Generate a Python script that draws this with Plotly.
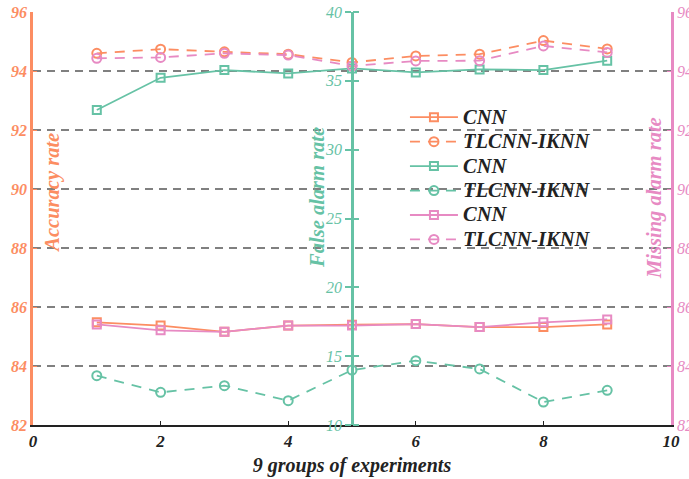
import plotly.graph_objects as go

# ---- data ----
groups = [1, 2, 3, 4, 5, 6, 7, 8, 9]
acc_cnn = [85.48, 85.37, 85.16, 85.37, 85.40, 85.42, 85.32, 85.32, 85.41]
acc_tl = [94.60, 94.74, 94.65, 94.57, 94.29, 94.51, 94.57, 95.03, 94.75]
far_cnn = [32.88, 35.22, 35.78, 35.54, 35.90, 35.61, 35.83, 35.78, 36.46]
far_tl = [13.58, 12.37, 12.86, 11.77, 13.99, 14.67, 14.07, 11.67, 12.52]
mar_cnn = [85.41, 85.21, 85.16, 85.37, 85.37, 85.42, 85.32, 85.48, 85.58]
mar_tl = [94.43, 94.46, 94.60, 94.54, 94.17, 94.34, 94.35, 94.85, 94.63]
names = ["CNN", "TLCNN-IKNN"]
x_ticks = [0, 2, 4, 6, 8, 10]
acc_ticks = [82, 84, 86, 88, 90, 92, 94, 96]
far_ticks = [10, 15, 20, 25, 30, 35, 40]

ORANGE = "#FC8D62"
GREEN = "#66C2A5"
PINK = "#E78AC3"
SERIF = "Liberation Serif"

fig = go.Figure()

def add(y, color, dashed, axis, name):
    fig.add_trace(go.Scatter(
        x=groups, y=y, yaxis=axis, mode="lines+markers",
        name='<span style="font-size:20.5px">' + name + '</span>',
        line=dict(color=color, width=1.8, dash="10px,8px" if dashed else "solid"),
        marker=dict(symbol="circle-open" if dashed else "square-open",
                    size=9 if dashed else 8, color=color, line=dict(width=2, color=color)),
    ))

add(acc_cnn, ORANGE, False, "y", names[0])
add(acc_tl, ORANGE, True, "y", names[1])
add(far_cnn, GREEN, False, "y2", names[0])
add(far_tl, GREEN, True, "y4", names[1])
add(mar_cnn, PINK, False, "y3", names[0])
add(mar_tl, PINK, True, "y3", names[1])

def f(color, size, bold=True):
    return dict(family=SERIF, size=size, color=color, style="italic",
                weight="bold" if bold else "normal")

def title_ann(text, x, y, color):
    return dict(text=text, x=x, y=y, xref="paper", yref="paper", xanchor="center",
                yanchor="middle", textangle=-90, showarrow=False, font=f(color, 20.5))

fig.update_layout(
    width=689, height=479,
    margin=dict(l=33, r=18, t=12, b=54),
    paper_bgcolor="white", plot_bgcolor="white",
    showlegend=True,
    legend=dict(x=0.583, y=0.787, xanchor="left", yanchor="top", itemwidth=48,
                bgcolor="rgba(0,0,0,0)", font=f("#222222", 16.5)),
    xaxis=dict(range=[0, 10], tickvals=x_ticks, ticks="inside", ticklen=4,
               tickcolor="#222222", showline=True, linecolor="#222222", linewidth=2,
               showgrid=False, zeroline=False, tickfont=f("#222222", 17),
               title=dict(text="9 groups of experiments", font=f("#222222", 20), standoff=8),
               automargin=False),
    yaxis=dict(range=[82, 96], tickvals=acc_ticks, side="left", ticks="inside",
               ticklen=4, tickcolor=ORANGE, showline=True, linecolor=ORANGE, linewidth=2.5,
               showgrid=True, gridcolor="#808080", gridwidth=1.5, griddash="8px,6px",
               zeroline=False, tickfont=f(ORANGE, 16), automargin=False),
    yaxis2=dict(range=[10, 40], tickvals=far_ticks, overlaying="y", anchor="free",
                position=0.5, side="left", ticks="outside", ticklen=6, tickcolor=GREEN,
                tickwidth=1.5, showline=True, linecolor=GREEN, linewidth=2.5, showgrid=False,
                zeroline=False, tickfont=f(GREEN, 16, bold=False), automargin=False),
    yaxis4=dict(range=[10, 40], tickvals=far_ticks, overlaying="y", anchor="free",
                position=0.5, side="right", ticks="outside", ticklen=6, tickcolor=GREEN,
                tickwidth=1.5, showline=False, showgrid=False, zeroline=False,
                showticklabels=False, automargin=False),
    yaxis3=dict(range=[82, 96], tickvals=acc_ticks, overlaying="y", anchor="x",
                side="right", ticks="inside", ticklen=4, tickcolor=PINK, showline=True,
                linecolor=PINK, linewidth=2.5, showgrid=False, zeroline=False,
                tickfont=f(PINK, 16, bold=False), automargin=False),
    annotations=[
        title_ann("Accuracy rate", 0.031, 0.562, ORANGE),
        title_ann("False alarm rate", 0.445, 0.552, GREEN),
        title_ann("Missing alarm rate", 0.975, 0.55, PINK),
    ],
)

fig.write_html("out.html", config={"displayModeBar": False},
               post_script="document.body.style.margin='0';")
